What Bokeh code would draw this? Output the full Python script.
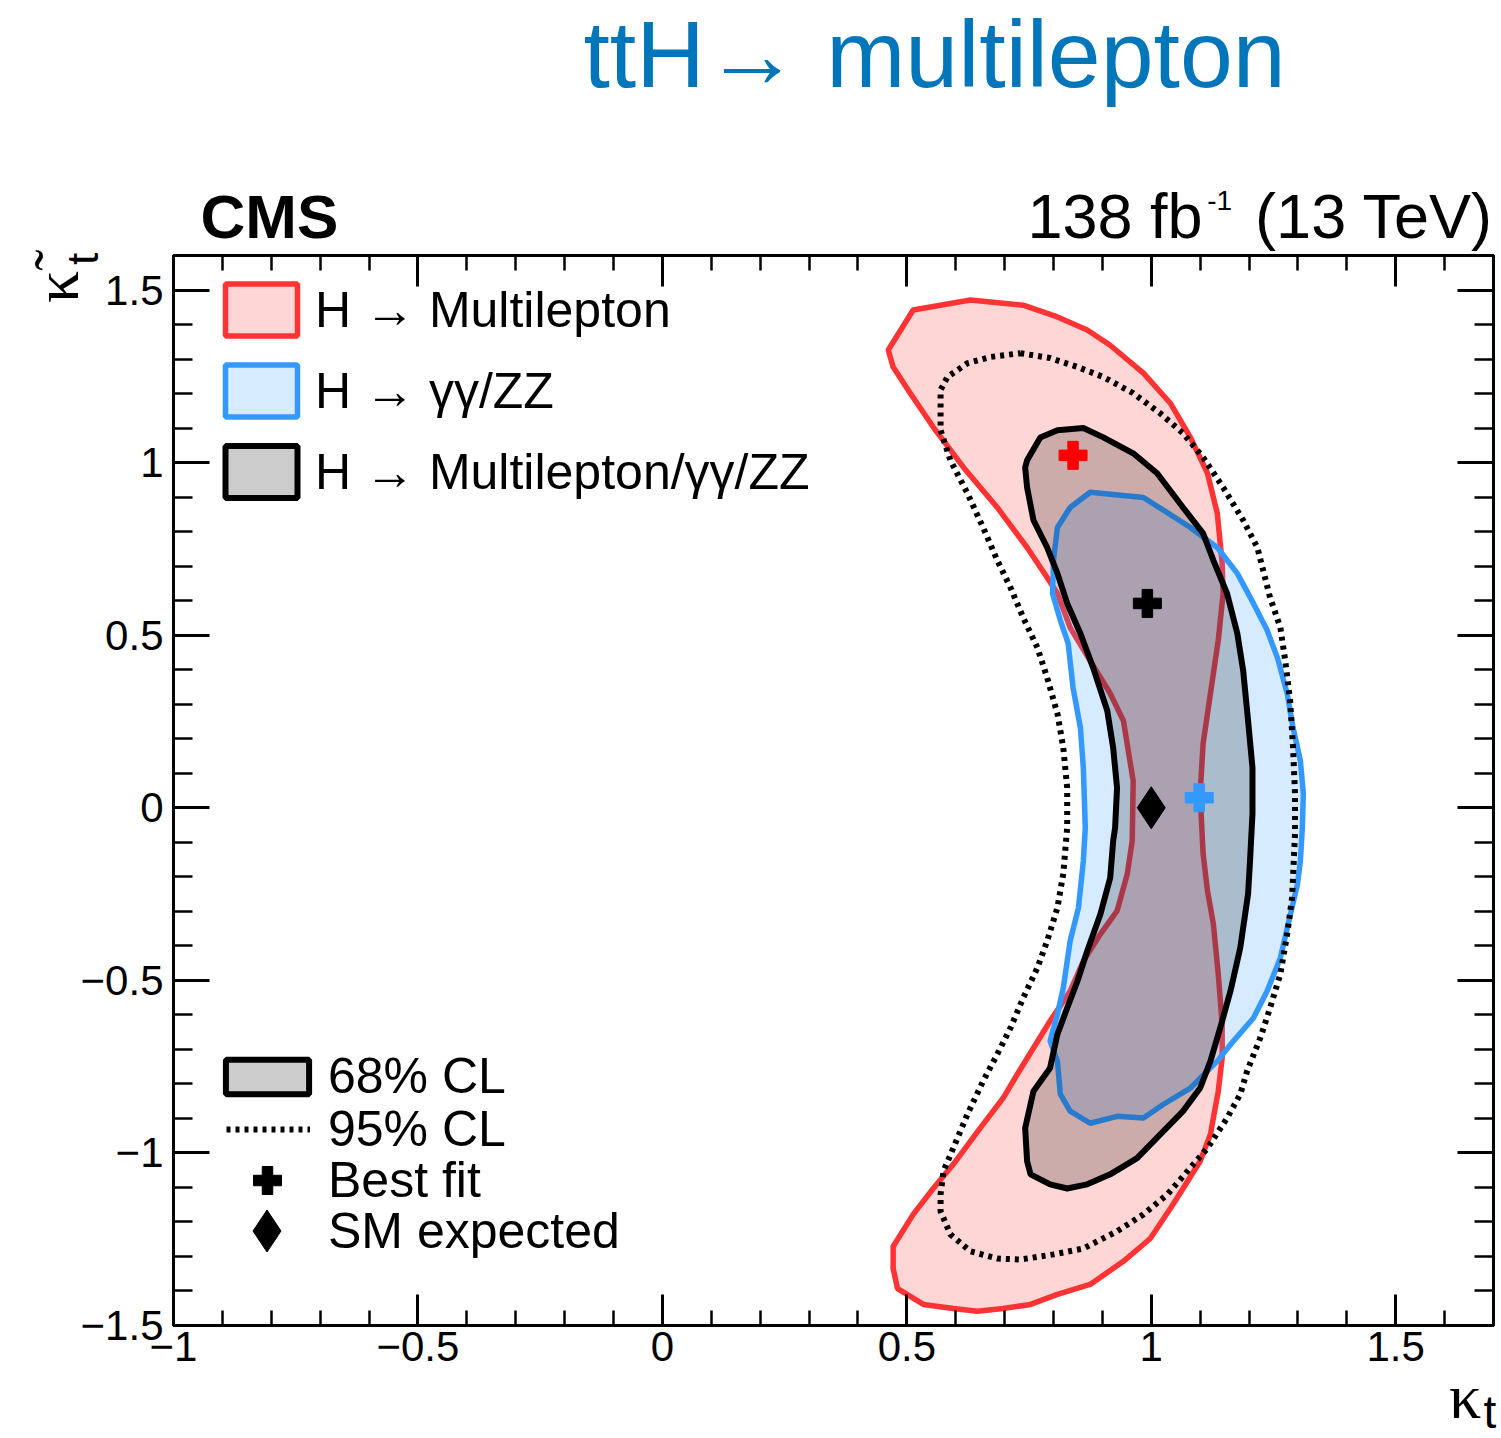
import numpy as np
from bokeh.plotting import figure
from bokeh.models import (Range1d, FixedTicker, LinearAxis, Label, Legend, LegendItem,
                          CustomJSTickFormatter)
from bokeh.embed import file_html
from bokeh.resources import INLINE

# ---------------- data (kappa_t , kappa_t tilde) ----------------
# H -> Multilepton, 68% CL region
ml_kt = [0.462, 0.513, 0.630, 0.738, 0.808, 0.869, 0.916, 0.984, 1.039, 1.080, 1.115, 1.135,
         1.145, 1.147, 1.137, 1.121, 1.106, 1.100, 1.106, 1.115, 1.127, 1.137, 1.145, 1.145,
         1.137, 1.121, 1.100, 1.065, 1.039, 0.998, 0.943, 0.875, 0.808, 0.753, 0.697, 0.644,
         0.595, 0.534, 0.481, 0.472, 0.472, 0.513, 0.554, 0.595, 0.650, 0.697, 0.726, 0.759,
         0.793, 0.834, 0.861, 0.896, 0.930, 0.951, 0.961, 0.963, 0.943, 0.916, 0.875, 0.834,
         0.808, 0.787, 0.746, 0.685, 0.616, 0.554, 0.507, 0.472]
ml_ktt = [1.326, 1.442, 1.471, 1.456, 1.422, 1.384, 1.340, 1.259, 1.172, 1.073, 0.969, 0.853,
          0.708, 0.621, 0.485, 0.331, 0.186, 0.041, -0.133, -0.241, -0.337, -0.482, -0.627, -0.725,
          -0.821, -0.946, -1.024, -1.103, -1.161, -1.248, -1.314, -1.381, -1.410, -1.439, -1.451, -1.459,
          -1.451, -1.439, -1.393, -1.335, -1.271, -1.178, -1.103, -1.033, -0.928, -0.841, -0.772, -0.696,
          -0.618, -0.531, -0.444, -0.366, -0.299, -0.191, -0.096, 0.078, 0.252, 0.331, 0.426, 0.522,
          0.621, 0.667, 0.754, 0.870, 0.986, 1.103, 1.201, 1.277]

# H -> gamma gamma / ZZ, 68% CL region
gz_kt = [0.875, 0.984, 1.025, 1.080, 1.135, 1.176, 1.209, 1.237, 1.258, 1.278, 1.290, 1.305,
         1.311, 1.309, 1.305, 1.299, 1.280, 1.264, 1.237, 1.209, 1.168, 1.135, 1.094, 1.080,
         1.025, 0.984, 0.930, 0.875, 0.834, 0.814, 0.808, 0.793, 0.808, 0.820, 0.834, 0.851,
         0.861, 0.865, 0.861, 0.855, 0.840, 0.830, 0.814, 0.798, 0.800, 0.808, 0.834]
gz_ktt = [0.914, 0.899, 0.862, 0.812, 0.754, 0.679, 0.592, 0.514, 0.435, 0.331, 0.232, 0.136,
          0.041, -0.058, -0.154, -0.221, -0.337, -0.435, -0.531, -0.609, -0.676, -0.734, -0.792, -0.812,
          -0.859, -0.899, -0.894, -0.914, -0.879, -0.830, -0.734, -0.676, -0.598, -0.522, -0.386, -0.290,
          -0.154, -0.058, 0.116, 0.232, 0.348, 0.476, 0.543, 0.621, 0.717, 0.812, 0.870]

# Combination, 68% CL region
cb68_kt = [0.808, 0.861, 0.902, 0.963, 1.012, 1.065, 1.106, 1.127, 1.155, 1.176, 1.188, 1.198,
           1.207, 1.207, 1.202, 1.198, 1.182, 1.162, 1.141, 1.121, 1.100, 1.065, 1.025, 0.971,
           0.916, 0.869, 0.828, 0.793, 0.753, 0.746, 0.742, 0.759, 0.793, 0.808, 0.828, 0.849,
           0.869, 0.896, 0.916, 0.922, 0.926, 0.930, 0.922, 0.910, 0.881, 0.855, 0.828, 0.808,
           0.787, 0.759, 0.746, 0.742, 0.746, 0.773]
cb68_ktt = [1.094, 1.100, 1.073, 1.027, 0.969, 0.870, 0.795, 0.717, 0.621, 0.505, 0.397, 0.252,
            0.116, -0.017, -0.154, -0.250, -0.406, -0.531, -0.638, -0.734, -0.812, -0.879, -0.937, -1.015,
            -1.062, -1.091, -1.103, -1.091, -1.062, -1.024, -0.928, -0.821, -0.754, -0.656, -0.580, -0.502,
            -0.415, -0.308, -0.203, -0.096, -0.058, 0.058, 0.174, 0.281, 0.406, 0.505, 0.592, 0.679,
            0.754, 0.833, 0.928, 0.986, 1.007, 1.073]

# Combination, 95% CL contour
cb95_kt = [0.732, 0.793, 0.849, 0.902, 0.963, 1.018, 1.065, 1.106, 1.147, 1.188, 1.217, 1.243,
           1.264, 1.274, 1.284, 1.290, 1.294, 1.294, 1.288, 1.278, 1.264, 1.243, 1.223, 1.196,
           1.182, 1.155, 1.115, 1.074, 1.033, 0.984, 0.930, 0.861, 0.800, 0.732, 0.685, 0.630,
           0.589, 0.569, 0.569, 0.575, 0.595, 0.624, 0.656, 0.685, 0.712, 0.738, 0.767, 0.787,
           0.808, 0.820, 0.828, 0.828, 0.820, 0.808, 0.787, 0.767, 0.738, 0.712, 0.685, 0.656,
           0.624, 0.589, 0.569, 0.569, 0.569, 0.583, 0.624, 0.671, 0.732]
cb95_ktt = [1.317, 1.303, 1.277, 1.248, 1.201, 1.143, 1.085, 1.015, 0.928, 0.833, 0.754, 0.609,
            0.522, 0.426, 0.310, 0.174, 0.041, -0.075, -0.261, -0.366, -0.482, -0.580, -0.667, -0.763,
            -0.830, -0.899, -0.986, -1.053, -1.120, -1.178, -1.227, -1.277, -1.294, -1.309, -1.306, -1.285,
            -1.236, -1.169, -1.120, -1.053, -0.986, -0.888, -0.792, -0.714, -0.638, -0.551, -0.464, -0.386,
            -0.290, -0.191, -0.058, 0.058, 0.174, 0.273, 0.377, 0.464, 0.551, 0.638, 0.717, 0.812,
            0.911, 1.007, 1.094, 1.143, 1.210, 1.248, 1.288, 1.306, 1.317]

# best-fit points and SM expectation
bf_ml_kt, bf_ml_ktt = [0.840], [1.021]
bf_gz_kt, bf_gz_ktt = [1.098], [0.029]
bf_cb_kt, bf_cb_ktt = [0.992], [0.592]
sm_kt, sm_ktt = [1.0], [0.0]

# axis ticks
x_major = [-1.0, -0.5, 0.0, 0.5, 1.0, 1.5]
x_minor = [round(-1.0 + 0.1 * i, 1) for i in range(28)]
y_major = [-1.5, -1.0, -0.5, 0.0, 0.5, 1.0, 1.5]
y_minor = [round(-1.5 + 0.1 * i, 1) for i in range(32)]

legend_labels = ["H \u2192 Multilepton", "H \u2192 \u03b3\u03b3/ZZ", "H \u2192 Multilepton/\u03b3\u03b3/ZZ"]

SANS = "Liberation Sans"
SERIF = "Liberation Serif"

# ---------------- figure ----------------
p = figure(width=1501, height=1438, x_range=Range1d(-1.0, 1.7), y_range=Range1d(-1.5, 1.6),
           output_backend="svg", toolbar_location=None,
           min_border_left=173, min_border_right=8, min_border_top=255, min_border_bottom=113)
p.xgrid.visible = False
p.ygrid.visible = False
p.outline_line_color = "black"
p.outline_line_width = 3
p.background_fill_color = "white"
p.border_fill_color = "white"

bottom_axis = p.below[0]
left_axis = p.left[0]
top_axis = LinearAxis()
right_axis = LinearAxis()
p.add_layout(top_axis, "above")
p.add_layout(right_axis, "right")

fmt = CustomJSTickFormatter(code="return (tick < 0 ? '\\u2212' : '') + Math.abs(tick).toString();")
blank = CustomJSTickFormatter(code="return '';")

for ax, horiz, labelled in [(bottom_axis, True, True), (top_axis, True, False),
                            (left_axis, False, True), (right_axis, False, False)]:
    ax.ticker = FixedTicker(ticks=x_major if horiz else y_major,
                            minor_ticks=x_minor if horiz else y_minor)
    ax.major_tick_in = 31 if horiz else 36
    ax.minor_tick_in = 15 if horiz else 19
    ax.major_tick_out = 0
    ax.minor_tick_out = 0
    ax.axis_line_width = 3
    ax.major_tick_line_width = 3
    ax.minor_tick_line_width = 2.5
    ax.axis_line_color = "black"
    if labelled:
        ax.formatter = fmt
        ax.major_label_text_font = SANS
        ax.major_label_text_font_size = "42px"
        ax.major_label_text_color = "black"
        ax.major_label_standoff = 6 if horiz else 10
    else:
        ax.formatter = blank
        ax.major_label_text_font_size = "0px"
        ax.major_label_standoff = 0

# ---------------- contours ----------------
r_ml = p.patch(ml_kt, ml_ktt, fill_color="#ff3333", fill_alpha=0.2,
               line_color="#ff3333", line_width=5.5)
r_gz = p.patch(gz_kt, gz_ktt, fill_color="#3399ff", fill_alpha=0.2,
               line_color="#3399ff", line_width=5.5)
r_cb = p.patch(cb68_kt, cb68_ktt, fill_color="black", fill_alpha=0.2,
               line_color="black", line_width=6)
r_95 = p.line(cb95_kt, cb95_ktt, line_color="black", line_width=6, line_dash="4 5")

r_bf_ml = p.scatter(bf_ml_kt, bf_ml_ktt, marker="plus", size=28, color="#ff0000")
r_bf_gz = p.scatter(bf_gz_kt, bf_gz_ktt, marker="plus", size=28, color="#3399ff")
r_bf_cb = p.scatter(bf_cb_kt, bf_cb_ktt, marker="plus", size=28, color="black")
r_sm = p.scatter(sm_kt, sm_ktt, marker="diamond", size=42, color="black")

# ---------------- legends ----------------
def make_legend(items, loc, gw, gh, spacing, standoff):
    lg = Legend(items=items, location=loc, glyph_width=int(gw), glyph_height=int(gh),
                spacing=int(spacing), label_standoff=int(standoff), padding=0, margin=0,
                background_fill_alpha=0, border_line_alpha=0,
                label_text_font=SANS, label_text_font_size="50px", label_text_color="black")
    p.add_layout(lg)
    return lg

make_legend([LegendItem(label=legend_labels[0], renderers=[r_ml]),
             LegendItem(label=legend_labels[1], renderers=[r_gz]),
             LegendItem(label=legend_labels[2], renderers=[r_cb])],
            (43, 821), 90, 65, 16, 9)
make_legend([LegendItem(label="68% CL", renderers=[r_cb])], (42, 220), 104, 43, 0, 9)
make_legend([LegendItem(label="95% CL", renderers=[r_95])], (53, 167), 84, 56, 0, 18)
make_legend([LegendItem(label="Best fit", renderers=[r_bf_cb])], (59, 110), 70, 70, 0, 26)
make_legend([LegendItem(label="SM expected", renderers=[r_sm])], (41, 42), 105, 105, 0, 9)

# ---------------- texts outside the frame (side panels, so they are not clipped) ----------------
def lab(place, x, y, text, size, font=SANS, style="normal", color="black", align="left", angle=0.0):
    p.add_layout(Label(x=x, y=y, text=text, text_font=font, text_font_size=size,
                       text_font_style=style, text_color=color, text_align=align,
                       text_baseline="alphabetic", angle=angle), place)

NB = "\u00a0"
lab("above", -0.1616, 2.1825, "ttH\u2192 multilepton", "95px", color="#0076ba")
lab("above", -0.9448, 1.7138, "CMS", "62px", style="bold")
lab("above", 1.6994, 1.7148, "138 fb" + NB * 3 + "(13 TeV)", "63px", align="right")
lab("left", 1.1145, 1.7605, "-1", "28px")

# x-axis title: kappa_t
lab("left", 1.6748, -1.7059, "\u03ba", "64px", font=SERIF, align="right")
lab("left", 1.7055, -1.7492, "t", "46px", align="right")
# y-axis title: kappa-tilde_t (rotated)
lab("below", -1.2389, 1.4623, "\u03ba\u0303", "64px", font=SERIF, angle=np.pi / 2)
lab("below", -1.1869, 1.5725, "t", "44px", angle=np.pi / 2)

open("out.html", "w").write(file_html(p, INLINE))
